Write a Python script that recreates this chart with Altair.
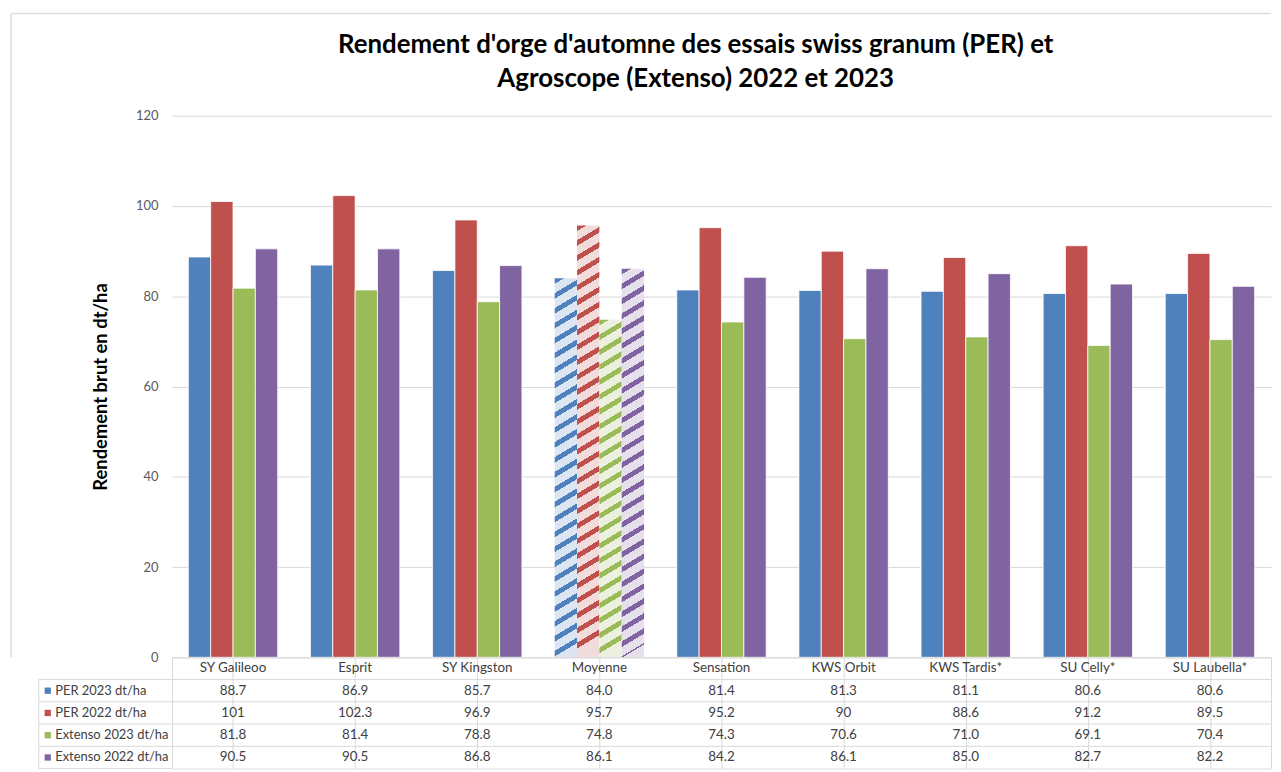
import altair as alt
import pandas as pd

# ---------------- data ----------------
cats = ["SY Galileoo", "Esprit", "SY Kingston", "Moyenne", "Sensation",
        "KWS Orbit", "KWS Tardis*", "SU Celly*", "SU Laubella*"]
series = ["PER 2023 dt/ha", "PER 2022 dt/ha", "Extenso 2023 dt/ha", "Extenso 2022 dt/ha"]
per2023 = [88.7, 86.9, 85.7, 84.0, 81.4, 81.3, 81.1, 80.6, 80.6]
per2022 = [101, 102.3, 96.9, 95.7, 95.2, 90, 88.6, 91.2, 89.5]
ext2023 = [81.8, 81.4, 78.8, 74.8, 74.3, 70.6, 71.0, 69.1, 70.4]
ext2022 = [90.5, 90.5, 86.8, 86.1, 84.2, 86.1, 85.0, 82.7, 82.2]
per2022_labels = ["101", "102.3", "96.9", "95.7", "95.2", "90", "88.6", "91.2", "89.5"]
y_ticks = [0, 20, 40, 60, 80, 100, 120]
avg_cat = "Moyenne"
title_lines = ["Rendement d'orge d'automne des essais swiss granum (PER) et",
               "Agroscope (Extenso) 2022 et 2023"]

colors = ["#4f81bd", "#c0504d", "#9bbb59", "#8064a2"]
light_colors = ["#dce6f2", "#f2dcdb", "#ebf1de", "#e5e0ec"]

all_vals = [per2023, per2022, ext2023, ext2022]

# ---------------- layout ----------------
W, H = 1106, 545
TH = 112
PAD_INNER = 0.268
FONT = "Lato"
GRID = "#d9d9d9"
TXT = "#404040"

rows = []
for s, vals in zip(series, all_vals):
    for c, v in zip(cats, vals):
        rows.append({"cat": c, "series": s, "value": v})
df = pd.DataFrame(rows)

x_enc = alt.X("cat:N", sort=cats, axis=None,
              scale=alt.Scale(domain=cats, paddingInner=PAD_INNER, paddingOuter=PAD_INNER / 2))
xo_enc = alt.XOffset("series:N", sort=series,
                     scale=alt.Scale(domain=series, paddingInner=0, paddingOuter=0))
y_enc = alt.Y("value:Q", scale=alt.Scale(domain=[0, 120], nice=False),
              axis=alt.Axis(values=y_ticks, grid=True, gridColor=GRID, domain=False, ticks=False,
                            labelPadding=14, labelFontSize=13, labelColor="#595959", labelFont=FONT,
                            title="Rendement brut en dt/ha", titleFont=FONT, titleFontSize=18.5,
                            titleFontWeight="bold", titleColor="#000000", titlePadding=25))

solid = alt.Chart(df).transform_filter(alt.datum.cat != avg_cat).mark_bar(
    stroke="white", strokeWidth=0.8
).encode(
    x=x_enc, xOffset=xo_enc, y=y_enc,
    color=alt.Color("series:N", scale=alt.Scale(domain=series, range=colors), legend=None),
)

# hatch (diagonal stripes) fill for the average bars, built as a striped gradient
step = W / 9.0
bw = step * (1 - PAD_INNER) / 4.0


def hatch_gradient(dark, lite, value):
    h = value / 120.0 * H
    a = 0.6          # stripe slope
    P = 15.0         # vertical period in px
    frac = 0.38      # dark share
    L = (h * h + a * a * bw * bw) / h
    stops = []
    k = 0
    while k * P < L:
        d0 = k * P
        d1 = d0 + frac * P
        l1 = (k + 1) * P
        for col, off in ((dark, d0), (dark, d1), (lite, d1), (lite, l1)):
            stops.append(alt.GradientStop(color=col, offset=min(off / L, 1.0)))
        k += 1
    return alt.LinearGradient(gradient="linear", stops=stops, x1=0, y1=0,
                              x2=a * bw / h, y2=1)


hatch_layers = []
ai = cats.index(avg_cat)
for s, vals, dc, lc in zip(series, all_vals, colors, light_colors):
    hatch_layers.append(
        alt.Chart(df).transform_filter(
            (alt.datum.cat == avg_cat) & (alt.datum.series == s)
        ).mark_bar(fill=hatch_gradient(dc, lc, vals[ai])).encode(
            x=x_enc, xOffset=xo_enc, y=y_enc)
    )

top = alt.layer(solid, *hatch_layers).properties(
    width=W, height=H,
    title=alt.TitleParams(text=title_lines, font=FONT, fontSize=26, fontWeight="bold",
                          color="#000000", anchor="middle", dx=-26, offset=18, lineHeight=34),
    view=alt.ViewBackground(stroke="transparent"),
)

# ---------------- table ----------------
trows = [""] + series
trec = []
for c in cats:
    trec.append({"cat": c, "row": "", "label": c})
for si, (s, vals) in enumerate(zip(series, all_vals)):
    for ci, (c, v) in enumerate(zip(cats, vals)):
        lab = per2022_labels[ci] if si == 1 else f"{v:.1f}"
        trec.append({"cat": c, "row": s, "label": lab})
tdf = pd.DataFrame(trec)

y_t = alt.Y("row:N", sort=trows,
            scale=alt.Scale(domain=trows, paddingInner=0, paddingOuter=0),
            axis=alt.Axis(ticks=False, domain=False, grid=False, labelAlign="left",
                          labelPadding=118, labelFontSize=13, labelColor=TXT, labelFont=FONT,
                          title=None))
x_t = alt.X("cat:N", sort=cats,
            scale=alt.Scale(domain=cats, paddingInner=0, paddingOuter=0),
            axis=alt.Axis(grid=True, bandPosition=0, labels=False, ticks=False, domain=False,
                          gridColor=GRID, title=None, orient="top"))

texts = alt.Chart(tdf).mark_text(font=FONT, fontSize=13.5, color=TXT).encode(
    x=x_t, y=y_t, text="label:N")

sw_df = pd.DataFrame({"row": series})
swatches = alt.Chart(sw_df).mark_point(shape="square", filled=True, size=40, opacity=1).encode(
    x=alt.value(-125), y=y_t,
    color=alt.Color("row:N", scale=alt.Scale(domain=series, range=colors), legend=None))

hlines = alt.Chart(sw_df).mark_rule(color=GRID, strokeWidth=1).encode(
    y=alt.Y("row:N", sort=trows, bandPosition=0), x=alt.value(-134), x2=alt.value(W))

one = pd.DataFrame({"k": [0]})
bottom_line = alt.Chart(one).mark_rule(color=GRID, strokeWidth=1).encode(
    y=alt.value(TH), x=alt.value(-134), x2=alt.value(0))
left_line = alt.Chart(one).mark_rule(color=GRID, strokeWidth=1).encode(
    x=alt.value(-134), y=alt.value(TH / 5.0), y2=alt.value(TH))

# outer chart-area frame (left and top edges), drawn relative to the table
BORDER = "#dedede"
frame_top = alt.Chart(one).mark_rule(color=BORDER, strokeWidth=1.5).encode(
    y=alt.value(-H - 103), x=alt.value(-162), x2=alt.value(W))
frame_left = alt.Chart(one).mark_rule(color=BORDER, strokeWidth=1.5).encode(
    x=alt.value(-162), y=alt.value(-H - 103), y2=alt.value(0))

table = alt.layer(frame_top, frame_left, hlines, bottom_line, left_line, texts, swatches).properties(
    width=W, height=TH, view=alt.ViewBackground(stroke=GRID))

chart = alt.vconcat(top, table, spacing=0, bounds="flush").properties(
    padding={"left": 1, "top": 1, "right": 0, "bottom": 0}
).configure(font=FONT).configure_view(strokeWidth=1)

chart.save("out.html", embed_options={"renderer": "svg", "actions": False})
